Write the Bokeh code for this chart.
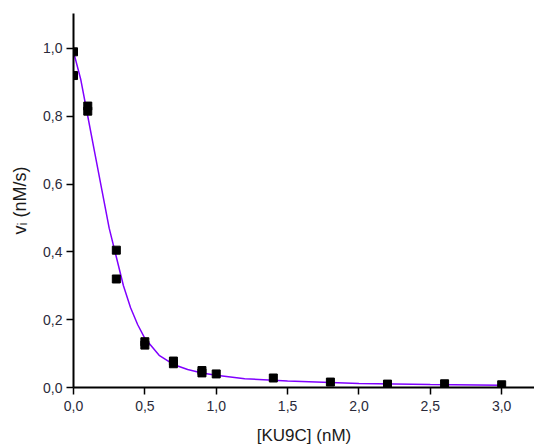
from bokeh.plotting import figure
from bokeh.models import Range1d, FixedTicker, CustomJSTickFormatter
from bokeh.embed import file_html
from bokeh.resources import INLINE

# measured data
conc = [0.0, 0.0, 0.1, 0.1, 0.3, 0.3, 0.5, 0.5, 0.7, 0.7, 0.9, 0.9, 1.0, 1.4, 1.8, 2.2, 2.6, 3.0]
rate = [0.99, 0.92, 0.83, 0.815, 0.405, 0.32, 0.135, 0.125, 0.078, 0.07, 0.05, 0.043, 0.04, 0.028, 0.016, 0.01, 0.011, 0.008]

# fitted curve
fit_x = [0.0, 0.05, 0.1, 0.15, 0.2, 0.25, 0.3, 0.35, 0.4, 0.45, 0.5, 0.6, 0.7, 0.8, 0.9, 1.0, 1.2, 1.5, 2.0, 2.5, 3.0]
fit_y = [0.99, 0.91, 0.80, 0.69, 0.58, 0.47, 0.385, 0.30, 0.235, 0.185, 0.145, 0.095, 0.068, 0.053, 0.043, 0.036, 0.026, 0.019, 0.012, 0.009, 0.007]

x_ticks = [0.0, 0.5, 1.0, 1.5, 2.0, 2.5, 3.0]
y_ticks = [0.0, 0.2, 0.4, 0.6, 0.8, 1.0]

p = figure(width=534, height=447, output_backend="svg", toolbar_location=None,
           x_range=Range1d(0, 3.23), y_range=Range1d(0, 1.103),
           min_border_left=73, min_border_top=13, min_border_right=0, min_border_bottom=59)
p.outline_line_color = None
p.xgrid.visible = False
p.ygrid.visible = False

p.line(fit_x, fit_y, line_color="#8000ff", line_width=1.5)
p.scatter(conc, rate, marker="square", size=8, fill_color="black", line_color="black")

fmt = CustomJSTickFormatter(code="return tick.toFixed(1).replace('.', ',');")
for ax, ticks in ((p.xaxis[0], x_ticks), (p.yaxis[0], y_ticks)):
    ax.ticker = FixedTicker(ticks=ticks)
    ax.formatter = fmt
    ax.minor_tick_line_color = None
    ax.major_tick_out = 7
    ax.major_tick_in = 0
    ax.axis_line_width = 2
    ax.major_tick_line_width = 1.5
    ax.axis_line_color = "black"
    ax.major_tick_line_color = "black"
    ax.major_label_text_font = "Liberation Sans"
    ax.major_label_text_font_size = "14px"
    ax.major_label_text_color = "#2a2a3a"
    ax.axis_label_text_font = "Liberation Sans"
    ax.axis_label_text_font_size = "17px"
    ax.axis_label_text_font_style = "normal"
    ax.axis_label_text_color = "#1a1a1a"

p.xaxis.axis_label = "[KU9C] (nM)"
p.xaxis.axis_label_standoff = 12
p.xaxis.major_label_standoff = 6
p.yaxis.axis_label = "vᵢ (nM/s)"
p.yaxis.axis_label_text_font_size = "18px"
p.yaxis.axis_label_standoff = 10
p.yaxis.major_label_standoff = 4

open("out.html", "w").write(file_html(p, INLINE))
